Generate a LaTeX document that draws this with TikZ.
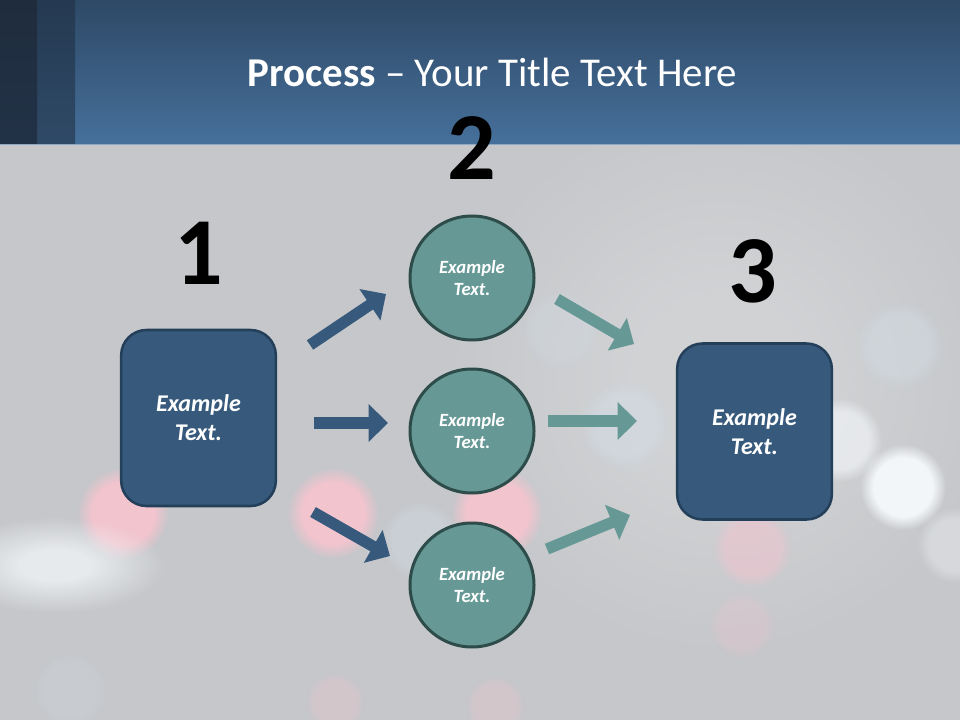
\documentclass[tikz,border=0pt]{standalone}
\usepackage{fontspec}
\setmainfont{Carlito}
\usepackage{tikz}
\usetikzlibrary{arrows.meta,fadings}

\definecolor{hdtop}{HTML}{2E4966}
\definecolor{hdbot}{HTML}{46709B}
\definecolor{stripa}{HTML}{1F2C3E}
\definecolor{stripb}{HTML}{29405A}
\definecolor{bodybg}{HTML}{C5C7CA}
\definecolor{boxfill}{HTML}{375A7C}
\definecolor{boxline}{HTML}{243F5A}
\definecolor{circfill}{HTML}{669896}
\definecolor{circline}{HTML}{2D4C4A}
\definecolor{bokpink}{HTML}{F6C4CF}
\definecolor{bokwhite}{HTML}{F6F9FC}
\definecolor{bokblue}{HTML}{D3DDE6}

% soft disc for the blurred lights
\pgfdeclareradialshading{softdiscshade}{\pgfpointorigin}{color(0bp)=(white); color(17bp)=(white); color(25bp)=(black); color(50bp)=(black)}
\pgfdeclarefading{softdisc}{\pgfuseshading{softdiscshade}}
\pgfdeclareradialshading{hazeshade}{\pgfpointorigin}{color(0bp)=(white); color(8bp)=(white); color(25bp)=(black); color(50bp)=(black)}
\pgfdeclarefading{haze}{\pgfuseshading{hazeshade}}

\tikzset{
  sqbox/.style={draw=boxline,line width=1.9pt,fill=boxfill,rounded corners=19pt,
    minimum width=116pt,minimum height=132pt,text=white,align=center,
    font=\bfseries\itshape\fontsize{18}{21.6}\selectfont},
  rdbox/.style={circle,draw=circline,line width=2.25pt,fill=circfill,minimum size=93pt,
    inner sep=0pt,text=white,align=center,font=\bfseries\itshape\fontsize{14}{17}\selectfont},
  bignum/.style={anchor=base,font=\bfseries\fontsize{72}{80}\selectfont},
  darrow/.style={draw=boxfill,line width=8.5pt,-{Triangle[width=27.5pt,length=14.5pt]}},
  tarrow/.style={draw=circfill,line width=8.5pt,-{Triangle[width=27.5pt,length=14.5pt]}},
  glow/.style={path fading=softdisc}
}

\begin{document}
\begin{tikzpicture}[x=0.75pt,y=0.75pt,yscale=-1,xscale=1]
\useasboundingbox (0,0) rectangle (960,720);
%Background
\fill[bodybg] (0,145) rectangle (960,720);
\fill[white,fill opacity=0.2,path fading=haze] (720,380) circle (280);
\foreach \bx/\by/\br/\bc/\bo in {123/513/46/bokpink/0.9, 333/513/46/bokpink/0.9,
    497/513/46/bokpink/0.9, 752/548/40/bokpink/0.5, 742/625/34/bokpink/0.25, 335/702/30/bokpink/0.3,
    495/706/30/bokpink/0.3, 903/487/43/bokwhite/0.95, 840/440/42/bokwhite/0.6, 900/345/44/bokblue/0.45,
    955/545/38/bokwhite/0.35, 625/425/45/bokblue/0.5, 420/540/40/bokblue/0.4, 70/690/38/bokblue/0.25,
    560/330/40/bokblue/0.3}
  \fill[\bc,fill opacity=\bo,glow] (\bx,\by) circle (\br);
\fill[bokwhite,fill opacity=0.7,path fading=haze] (55,565) ellipse [x radius=110,y radius=48];
%Header band
\shade[top color=hdtop,bottom color=hdbot] (75,0) rectangle (960,145);
\shade[top color=stripb!90!black,bottom color=stripb!80!hdbot] (37,0) rectangle (75,145);
\shade[top color=stripa,bottom color=stripa!70!stripb] (0,0) rectangle (37,145);
\draw[color=hdbot!60!white,line width=0.75pt] (0,145) -- (960,145);

% Text Node
\node[anchor=base,text=white,font=\fontsize{30.7}{37}\selectfont] (title) at (492.5,87) {\textbf{Process} -- Your Title Text Here};

%Shape: Rounded Rectangles
\node[sqbox] (start) at (198.5,418) {Example\\Text.};
\node[sqbox] (finish) at (754.5,431.5) {Example\\Text.};
%Shape: Circles
\node[rdbox] (midA) at (472,278) {Example\\Text.};
\node[rdbox] (midB) at (472,431) {Example\\Text.};
\node[rdbox] (midC) at (472,585) {Example\\Text.};

% Step numbers
\node[bignum] (numA) at (199,285) {1};
\node[bignum] (numB) at (472,180) {2};
\node[bignum] (numC) at (753,302) {3};

%Arrow ends
\coordinate (inAs) at (310,345);  \coordinate (inAe) at (386,294);
\coordinate (inBs) at (314,423);  \coordinate (inBe) at (388,423);
\coordinate (inCs) at (313,512);  \coordinate (inCe) at (390,556);
\coordinate (outAs) at (557,299); \coordinate (outAe) at (634,344);
\coordinate (outBs) at (548,421); \coordinate (outBe) at (637,421);
\coordinate (outCs) at (547,549); \coordinate (outCe) at (630,515);
%Block Arrows
\draw[darrow] (inAs) -- (inAe);
\draw[darrow] (inBs) -- (inBe);
\draw[darrow] (inCs) -- (inCe);
\draw[tarrow] (outAs) -- (outAe);
\draw[tarrow] (outBs) -- (outBe);
\draw[tarrow] (outCs) -- (outCe);
\end{tikzpicture}
\end{document}
